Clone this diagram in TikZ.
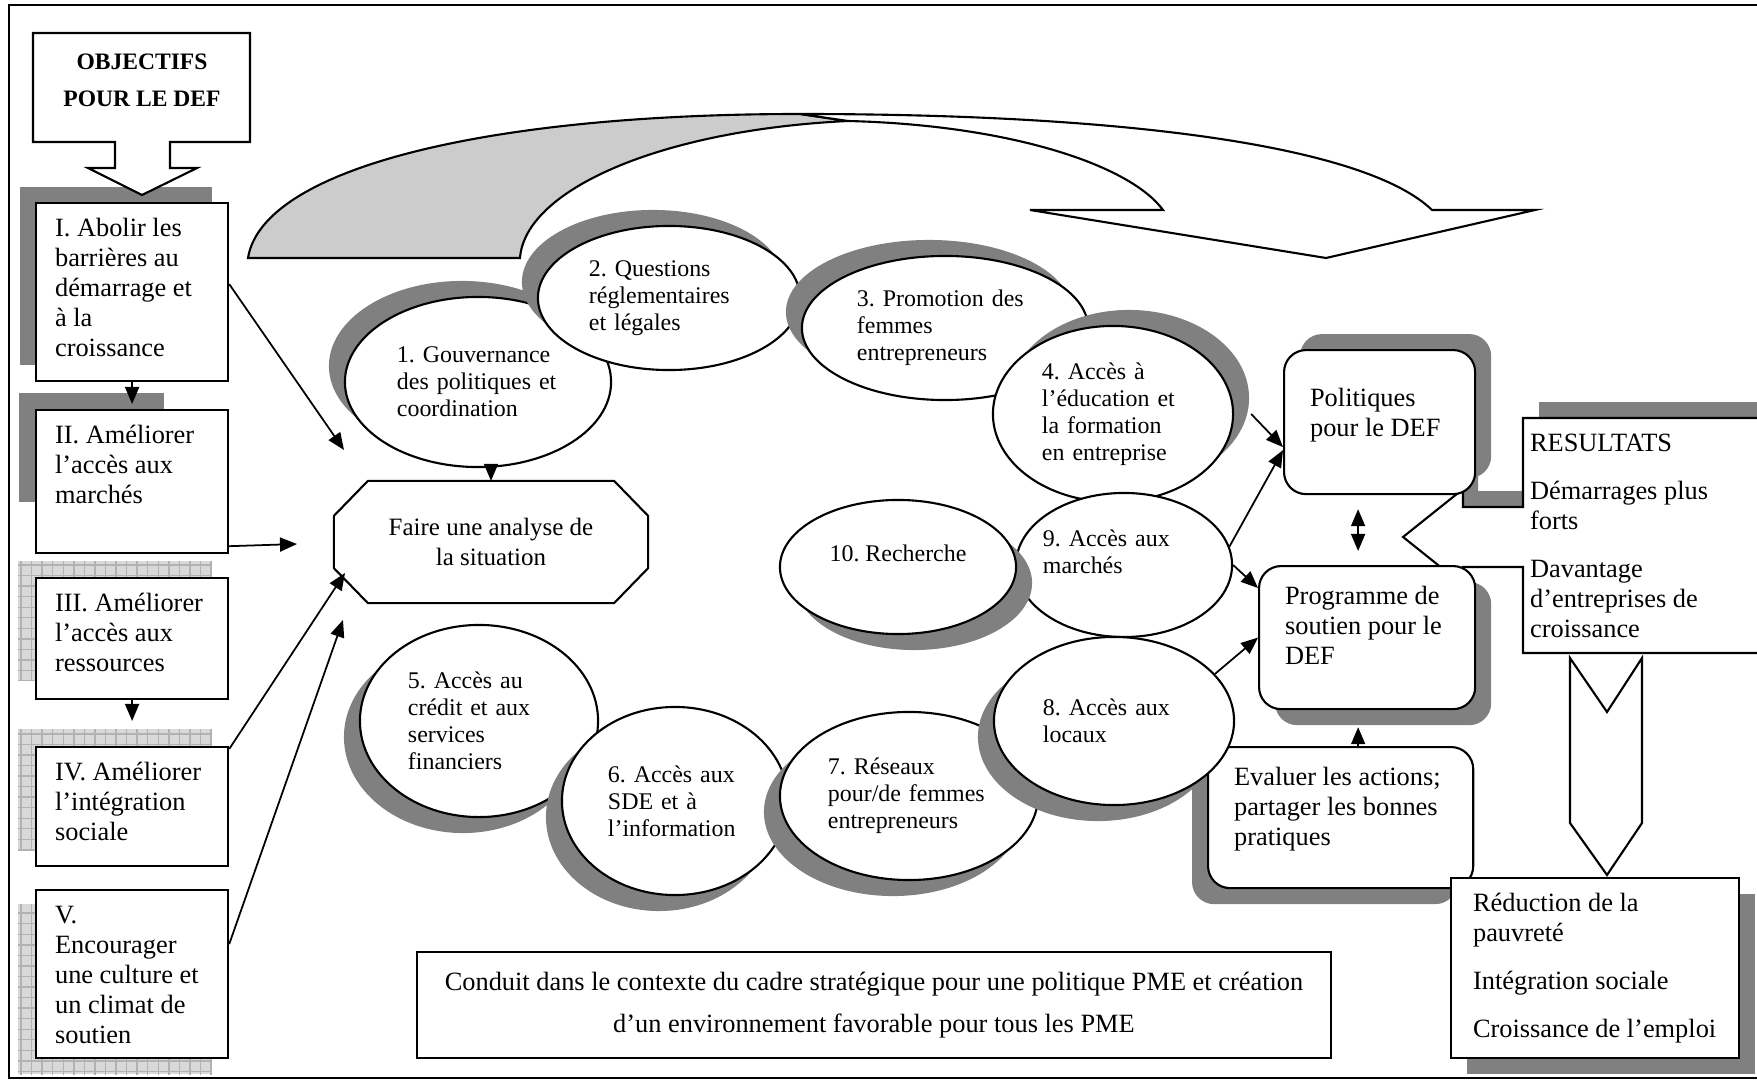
\documentclass[tikz,border=0pt]{standalone}
\usepackage{fontspec}
\setmainfont{Liberation Serif}
\usepackage{tikz}
\usetikzlibrary{arrows.meta,shapes,shadows,patterns,calc}
\definecolor{shadegray}{gray}{0.5}
\definecolor{bandgray}{gray}{0.8}
\newcommand{\ptext}[3]{\parbox[c][#1][t]{#2}{\raggedright\strut #3}}
\frenchspacing

\begin{document}
\begin{tikzpicture}[
        x=0.01cm, y=-0.01cm,
        line width=0.6pt,
        >={Triangle[length=0.17cm,width=0.14cm]},
        objbox/.style={draw, fill=white, anchor=north west, inner xsep=0.19cm, inner ysep=0.13cm, font=\fontsize{7.5}{8.5}\selectfont},
        rbox/.style={draw, fill=white, rounded corners=0.22cm, anchor=north west, inner xsep=0.26cm, inner ysep=0.18cm, font=\fontsize{7.5}{8.5}\selectfont},
        topic/.style={ellipse, draw, fill=white, inner sep=-0.2cm, align=left, font=\fontsize{6.8}{7.7}\selectfont},
        sh ul/.style={drop shadow={shadow xshift=-0.16cm, shadow yshift=0.16cm, opacity=1, fill=shadegray}},
        sh ur/.style={drop shadow={shadow xshift=0.16cm, shadow yshift=0.16cm, opacity=1, fill=shadegray}},
        sh dl/.style={drop shadow={shadow xshift=-0.16cm, shadow yshift=-0.16cm, opacity=1, fill=shadegray}},
        sh dr/.style={drop shadow={shadow xshift=0.16cm, shadow yshift=-0.16cm, opacity=1, fill=shadegray}},
        grid shadow/.style={preaction={fill=gray!30}, pattern=grid, pattern color=gray!60},
        link/.style={->, line width=0.5pt}
    ]
    \useasboundingbox (0,0) rectangle (1757,1082);
    \clip (0,0) rectangle (1757,1082);
    \draw (9,5) rectangle (1790,1078);

    \fill[shadegray] (19,393) rectangle (164,502);
    \fill[grid shadow] (18,561) rectangle (212,680);
    \fill[grid shadow] (18,729) rectangle (212,850);
    \fill[grid shadow] (18,904) rectangle (212,1074);

    \node[objbox, sh ul] (objI) at (35,202) {\ptext{1.52cm}{1.54cm}{I. Abolir les\\barrières au\\démarrage et\\à la\\croissance}};
    \node[objbox] (objII) at (35,409) {\ptext{1.17cm}{1.54cm}{II. Améliorer\\l'accès aux\\marchés}};
    \node[objbox] (objIII) at (35,577) {\ptext{0.95cm}{1.54cm}{III. Améliorer\\l'accès aux\\ressources}};
    \node[objbox] (objIV) at (35,746) {\ptext{0.93cm}{1.54cm}{IV. Améliorer\\l'intégration\\sociale}};
    \node[objbox] (objV) at (35,889) {\ptext{1.42cm}{1.54cm}{V.\\Encourager\\une culture et\\un climat de\\soutien}};

    \draw[fill=white] (33,33) -- (250,33) -- (250,142) -- (170,142) -- (170,168) -- (197,168) -- (142,195) -- (88,168) -- (115,168) -- (115,142) -- (33,142) -- cycle;
    \node[font=\fontsize{6.7}{10.5}\selectfont\bfseries, align=center] (objectifs) at (142,80) {OBJECTIFS\\POUR LE DEF};

    \filldraw[fill=bandgray] (248,258) .. controls (262,170) and (480,114) .. (800,114) -- (848,121) .. controls (660,130) and (525,190) .. (520,258) -- cycle;
    \filldraw[fill=white] (800,114) .. controls (1150,114) and (1370,150) .. (1432,210) -- (1535,210) -- (1326,258) -- (1030,210) -- (1163,210) .. controls (1130,165) and (1010,125) .. (848,121) -- cycle;

    \node[topic, sh ul, minimum width=2.66cm, minimum height=1.7cm, text width=1.62cm] (e1) at (478,382) {1. Gouvernance\\des politiques et\\coordination};
    \node[topic, sh ul, minimum width=2.62cm, minimum height=1.44cm, text width=1.6cm] (e2) at (669,298) {2. Questions\\réglementaires\\et légales};
    \node[topic, sh ul, minimum width=2.86cm, minimum height=1.44cm, text width=1.76cm] (e3) at (945,328) {3. Promotion des\\femmes\\entrepreneurs};
    \node[topic, sh ur, minimum width=2.4cm, minimum height=1.76cm, text width=1.42cm] (e4) at (1113,414) {4. Accès à\\l'éducation et\\la formation\\en entreprise};
    \node[topic, minimum width=2.16cm, minimum height=1.44cm, text width=1.62cm] (e9) at (1124,565) {9. Accès aux\\marchés\\ \mbox{}};
    \node[topic, sh dr, align=center, minimum width=2.36cm, minimum height=1.34cm] (e10) at (898,567) {10. Recherche\\ \mbox{}};

    \node[rbox, sh dl] (eval) at (1207,746) {\ptext{1.05cm}{2.13cm}{Evaluer les actions;\\partager les bonnes\\pratiques}};

    \node[topic, sh dl, minimum width=2.38cm, minimum height=1.92cm, text width=1.42cm] (e5) at (479,721) {5. Accès au\\crédit et aux\\services\\financiers};
    \node[topic, sh dl, minimum width=2.26cm, minimum height=1.88cm, text width=1.34cm] (e6) at (675,801) {6. Accès aux\\SDE et à\\l'information};
    \node[topic, sh dl, minimum width=2.58cm, minimum height=1.68cm, text width=1.62cm] (e7) at (909,796) {7. Réseaux\\pour/de femmes\\entrepreneurs};
    \node[topic, sh dl, minimum width=2.4cm, minimum height=1.68cm, text width=1.42cm] (e8) at (1114,721) {8. Accès aux\\locaux};

    \node[fill=white, minimum width=3.12cm, minimum height=1.2cm, inner sep=0pt, align=center, font=\fontsize{7.1}{8.5}\selectfont] (analyse) at (491,542) {Faire une analyse de\\la situation};
    \draw ($(analyse.north west)+(34,0)$) -- ($(analyse.north east)+(-34,0)$) -- ($(analyse.north east)+(0,35)$) -- ($(analyse.south east)+(0,-35)$) -- ($(analyse.south east)+(-34,0)$) -- ($(analyse.south west)+(34,0)$) -- ($(analyse.south west)+(0,-35)$) -- ($(analyse.north west)+(0,35)$) -- cycle;

    \fill[shadegray] (1539,402) rectangle (1790,637);
    \fill[shadegray] (1462,473) -- (1478,473) -- (1478,491) -- (1539,491) -- (1539,551) -- (1462,551) -- cycle;
    \draw[fill=white] (1523,418) -- (1790,418) -- (1790,653) -- (1523,653) -- (1523,567) -- (1463,567) -- (1463,585) -- (1403,537) -- (1463,489) -- (1463,507) -- (1523,507) -- cycle;
    \node[anchor=north west, inner xsep=0.06cm, inner ysep=0.12cm, font=\fontsize{7.5}{8.5}\selectfont] (resultats) at (1523,418) {\parbox[t]{2.3cm}{\raggedright\strut RESULTATS\\[0.18cm]Démarrages plus\\forts\\[0.18cm]Davantage\\d'entreprises de\\croissance}};

    \draw[fill=white] (1570,658) -- (1607,712) -- (1642,658) -- (1642,823) -- (1607,875) -- (1570,823) -- cycle;

    \node[rbox, sh ur] (pol) at (1283,349) {\parbox[c][1.08cm][t]{1.39cm}{\raggedright\vspace*{0.18cm}\strut Politiques\\pour le DEF}};
    \node[rbox, sh dr] (prog) at (1258,565) {\ptext{1.07cm}{1.64cm}{Programme de\\soutien pour le\\DEF}};
    \node[objbox, sh dr, inner xsep=0.22cm] (results) at (1450,877) {\ptext{1.54cm}{2.44cm}{Réduction de la\\pauvreté\\[0.18cm]Intégration sociale\\[0.18cm]Croissance de l'emploi}};

    \node[draw, fill=white, minimum width=9.13cm, minimum height=1.06cm, align=center, font=\fontsize{7.5}{12}\selectfont] (context) at (874,1005) {Conduit dans le contexte du cadre stratégique pour une politique PME et création\\d'un environnement favorable pour tous les PME};

    \coordinate (inI) at (344,450);
    \coordinate (inII) at (297,544);
    \coordinate (inIV) at (345,573);
    \coordinate (inV) at (343,620);

    \draw[link, shorten >=0.05cm] (objI) -- (objII);
    \draw[link, shorten >=0.25cm] (objIII) -- (objIV);
    \draw[link] ([yshift=0.08cm]objI.east) -- (inI);
    \draw[link] ([yshift=0.08cm]objII.south east) -- (inII);
    \draw[link] ([yshift=-0.03cm]objIV.north east) -- (inIV);
    \draw[link] ([yshift=0.3cm]objV.east) -- (inV);
    \draw[link] (analyse.north |- e1.south) -- (analyse.north);
    \draw[link] ([xshift=0.17cm]e4.east) -- ([yshift=-0.25cm]pol.west);
    \draw[link] (e9.10) -- ([yshift=-0.28cm]pol.west);
    \draw[link] (e9.east) -- ([yshift=-0.23cm]prog.north west);
    \draw[link] (e8.25) -- (prog.west);
    \draw[link, <->, shorten <=0.14cm, shorten >=0.14cm] ([xshift=-0.215cm]pol.south) -- ([xshift=-0.215cm]pol.south |- prog.north);
    \draw[link, shorten >=0.17cm] ([xshift=0.175cm]eval.north) -- ([xshift=0.175cm]eval.north |- prog.south);
\end{tikzpicture}
\end{document}
